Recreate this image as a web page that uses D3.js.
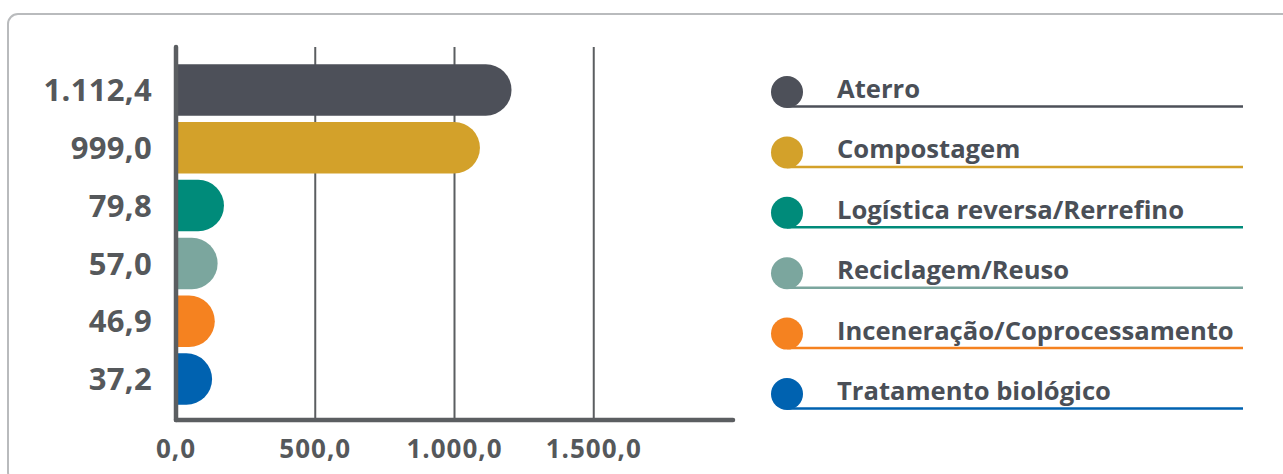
<!DOCTYPE html>
<html>
<head>
<meta charset="utf-8">
<script src="https://cdn.jsdelivr.net/npm/d3@7"></script>
<style>
  body { margin: 0; background: #fff; }
  svg { display: block; }
</style>
</head>
<body>
<svg id="chart" width="1283" height="474"></svg>
<script>
// destination categories and amounts
const categories = ["Aterro", "Compostagem", "Logística reversa/Rerrefino", "Reciclagem/Reuso", "Inceneração/Coprocessamento", "Tratamento biológico"];
const values = [1112.4, 999.0, 79.8, 57.0, 46.9, 37.2];
const colors = ["#4d5059", "#d3a12a", "#008b7a", "#7ba69e", "#f58220", "#0062b0"];
const tick_values = [0, 500, 1000, 1500];

const width = 1283;
const height = 474;
const svg = d3.select("#chart");

// pt-BR number format: 1.112,4
const locale = d3.formatLocale({ decimal: ",", thousands: ".", grouping: [3], currency: ["R$", ""] });
const fmt = locale.format(",.1f");

const axis_color = "#5b5e61";
const label_color = "#55585b";

// frame
svg.append("rect")
    .attr("x", 8)
    .attr("y", 14)
    .attr("width", 1290)
    .attr("height", 468)
    .attr("rx", 10)
    .attr("fill", "none")
    .attr("stroke", "#b9bbbd")
    .attr("stroke-width", 2);

// scales
const x_scale = d3.scaleLinear()
    .domain([0, 2000])
    .range([176, 733]);

const y_scale = d3.scaleBand()
    .domain(categories)
    .range([61, 408])
    .paddingInner(0.11)
    .paddingOuter(0.055);

const top_y = 47;
const base_y = 420;

// gridlines
svg.append("g")
    .selectAll("line")
    .data(tick_values.filter(d => d > 0))
    .join("line")
    .attr("x1", d => x_scale(d))
    .attr("x2", d => x_scale(d))
    .attr("y1", top_y)
    .attr("y2", base_y)
    .attr("stroke", axis_color)
    .attr("stroke-width", 2);

// bars: flat start, round cap past the value
const bh = y_scale.bandwidth();
const r = bh / 2;
svg.append("g")
    .selectAll("path")
    .data(categories)
    .join("path")
    .attr("fill", (d, i) => colors[i])
    .attr("d", (d, i) => {
        const x0 = x_scale(0);
        const x1 = x_scale(values[i]);
        const y0 = y_scale(d);
        return "M" + x0 + "," + y0 +
            "H" + x1 +
            "A" + r + "," + r + " 0 0 1 " + x1 + "," + (y0 + bh) +
            "H" + x0 + "Z";
    });

// axes lines
svg.append("line")
    .attr("x1", x_scale(0)).attr("x2", x_scale(0))
    .attr("y1", top_y).attr("y2", base_y)
    .attr("stroke", axis_color)
    .attr("stroke-width", 4.5)
    .attr("stroke-linecap", "round");

svg.append("line")
    .attr("x1", x_scale(0)).attr("x2", x_scale(2000))
    .attr("y1", base_y).attr("y2", base_y)
    .attr("stroke", axis_color)
    .attr("stroke-width", 4.5)
    .attr("stroke-linecap", "round");

// value labels
svg.append("g")
    .selectAll("text")
    .data(categories)
    .join("text")
    .attr("x", x_scale(0) - 24)
    .attr("y", d => y_scale(d) + bh / 2)
    .attr("dy", "0.36em")
    .attr("text-anchor", "end")
    .attr("fill", label_color)
    .style("font-family", "'Open Sans', sans-serif")
    .style("font-weight", 700)
    .style("font-size", "31px")
    .style("letter-spacing", "0.3px")
    .text((d, i) => fmt(values[i]));

// tick labels
svg.append("g")
    .selectAll("text")
    .data(tick_values)
    .join("text")
    .attr("x", d => x_scale(d))
    .attr("y", 449)
    .attr("dy", "0.36em")
    .attr("text-anchor", "middle")
    .attr("fill", label_color)
    .style("font-family", "'Open Sans', sans-serif")
    .style("font-weight", 700)
    .style("font-size", "26px")
    .style("letter-spacing", "1px")
    .text(d => fmt(d));

// legend
const legend_y = d3.scalePoint()
    .domain(categories)
    .range([92, 394]);

const legend = svg.append("g")
    .selectAll("g")
    .data(categories)
    .join("g")
    .attr("transform", d => "translate(787," + legend_y(d) + ")");

legend.append("line")
    .attr("x1", 0)
    .attr("x2", 456)
    .attr("y1", 14.5)
    .attr("y2", 14.5)
    .attr("stroke", (d, i) => colors[i])
    .attr("stroke-width", 2.5);

legend.append("circle")
    .attr("r", 16)
    .attr("fill", (d, i) => colors[i]);

legend.append("text")
    .attr("x", 50)
    .attr("y", 6)
    .attr("fill", "#4a4f57")
    .style("font-family", "'Open Sans', sans-serif")
    .style("font-weight", 700)
    .style("font-size", "25.6px")
    .text(d => d);
</script>
</body>
</html>
